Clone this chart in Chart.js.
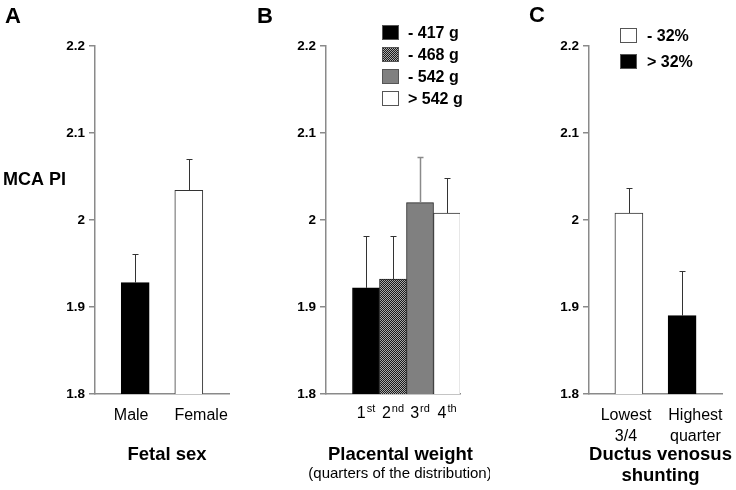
<!DOCTYPE html>
<html>
<head>
<meta charset="utf-8">
<script src="https://cdn.jsdelivr.net/npm/chart.js@4.4.1/dist/chart.umd.min.js"></script>
<style>
  html, body { margin: 0; padding: 0; background: #fff; }
  #wrap { position: relative; width: 736px; height: 490px; }
  canvas { position: absolute; top: 0; }
</style>
</head>
<body>
<div id="wrap">
  <canvas id="chartA" width="245" height="490" style="left:0"></canvas>
  <canvas id="chartB" width="245" height="490" style="left:245px"></canvas>
  <canvas id="chartC" width="246" height="490" style="left:490px"></canvas>
</div>
<script>
// shared y axis (MCA PI)
const yTicks = [1.8, 1.9, 2, 2.1, 2.2];
const yTickLabels = ['1.8', '1.9', '2', '2.1', '2.2'];

// A - fetal sex
const sexLabels = ['Male', 'Female'];
const sexMeans = [1.928, 2.034];
const sexSE = [0.033, 0.036];

// B - placental weight quarters
const placentaOrdinals = ['1', '2', '3', '4'];
const placentaSuffix = ['st', 'nd', 'rd', 'th'];
const placentaMeans = [1.922, 1.932, 2.020, 2.008];
const placentaSE = [0.060, 0.050, 0.052, 0.040];
const placentaLegend = ['- 417 g', '- 468 g', '- 542 g', '> 542 g'];

// C - ductus venosus shunting
const dvLabels = [['Lowest', '3/4'], ['Highest', 'quarter']];
const dvMeans = [2.008, 1.890];
const dvSE = [0.029, 0.051];
const dvLegend = ['- 32%', '> 32%'];

const FONT = '"Liberation Sans", Arial, sans-serif';
const AXIS = '#8a8a8a';

// checkered fill for the 2nd quarter
function hatch() {
  const c = document.createElement('canvas');
  c.width = 2; c.height = 2;
  const g = c.getContext('2d');
  g.fillStyle = '#aaa'; g.fillRect(0, 0, 2, 2);
  g.fillStyle = '#1a1a1a'; g.fillRect(0, 0, 1, 1); g.fillRect(1, 1, 1, 1);
  return g.createPattern(c, 'repeat');
}
const HATCH = hatch();

// error bars: upward whisker with a small cap
const errorBars = {
  id: 'errorBars',
  afterDatasetsDraw(chart) {
    const ctx = chart.ctx, y = chart.scales.y;
    const ds = chart.data.datasets[0];
    ctx.save();
    chart.getDatasetMeta(0).data.forEach((bar, i) => {
      const top = Math.round(y.getPixelForValue(ds.data[i].y + ds.errors[i])) + 0.5;
      const x = Math.round(bar.x) + 0.5;
      ctx.strokeStyle = ds.errorColors[i];
      ctx.lineWidth = ds.errorWidths[i];
      ctx.beginPath();
      ctx.moveTo(x, bar.y);
      ctx.lineTo(x, top);
      ctx.moveTo(x - 3, top);
      ctx.lineTo(x + 3, top);
      ctx.stroke();
    });
    ctx.restore();
  }
};

function text(ctx, str, x, y, size, bold, align) {
  ctx.font = (bold ? 'bold ' : '') + size + 'px ' + FONT;
  ctx.textAlign = align || 'left';
  ctx.textBaseline = 'alphabetic';
  ctx.fillStyle = '#000';
  ctx.fillText(str, x, y);
}

function legendBox(ctx, x, y, fill, border) {
  ctx.fillStyle = fill;
  ctx.fillRect(x, y, 17, 15);
  ctx.strokeStyle = border;
  ctx.lineWidth = 1;
  ctx.strokeRect(x + 0.5, y + 0.5, 16, 14);
}

function makePanel(id, p) {
  return new Chart(document.getElementById(id), {
    type: 'bar',
    data: {
      datasets: [{
        data: p.means.map((m, i) => ({ x: i + 1, y: m })),
        errors: p.se,
        errorColors: p.errColors,
        errorWidths: p.errWidths,
        backgroundColor: p.fills,
        borderColor: p.borders,
        borderWidth: 1,
        barThickness: p.barWidth
      }]
    },
    options: {
      responsive: false,
      animation: false,
      events: [],
      layout: { padding: { top: 46, right: p.padRight, left: 0, bottom: 0 } },
      plugins: { legend: { display: false }, tooltip: { enabled: false } },
      scales: {
        x: {
          type: 'linear', min: p.xMin, max: p.xMax, offset: false,
          afterFit: s => { s.height = 96; },
          afterBuildTicks: s => { s.ticks = p.tickPos.map(v => ({ value: v })); },
          ticks: {
            display: !!p.xLabels, autoSkip: false, maxRotation: 0, padding: 3, color: '#000',
            font: { family: FONT, size: 16, lineHeight: 1.3 },
            callback: (v, i) => p.xLabels ? p.xLabels[i] : ''
          },
          grid: { display: false },
          border: { display: true, color: AXIS, width: 1.5 }
        },
        y: {
          min: 1.8, max: 2.2,
          afterFit: s => { s.width = p.axisLeft; },
          afterBuildTicks: s => { s.ticks = yTicks.map(v => ({ value: v })); },
          ticks: {
            color: '#000', padding: 4,
            font: { family: FONT, size: 13.5, weight: 'bold' },
            callback: (v, i) => yTickLabels[i]
          },
          grid: { drawOnChartArea: false, drawTicks: true, tickLength: 6, color: AXIS, lineWidth: 1.5 },
          border: { display: true, color: AXIS, width: 1.5 }
        }
      }
    },
    plugins: [errorBars, { id: 'decor', afterDraw: p.decor }]
  });
}

makePanel('chartA', {
  means: sexMeans, se: sexSE,
  fills: ['#000', '#fff'], borders: ['#000', '#333'],
  errColors: ['#333', '#333'], errWidths: [1, 1],
  barWidth: 28, xMin: 0.25, xMax: 2.75, tickPos: [0.925, 2.23],
  xLabels: sexLabels, axisLeft: 95, padRight: 16,
  decor(chart) {
    const ctx = chart.ctx;
    text(ctx, 'A', 5, 23, 22, true);
    text(ctx, 'MCA PI', 3, 185, 18, true);
    text(ctx, 'Fetal sex', 167, 460, 18.5, true, 'center');
  }
});

makePanel('chartB', {
  means: placentaMeans, se: placentaSE,
  fills: ['#000', HATCH, '#808080', '#fff'], borders: ['#000', '#222', '#222', '#333'],
  errColors: ['#333', '#333', '#8a8a8a', '#333'], errWidths: [1, 1, 1.5, 1],
  barWidth: 27, xMin: -0.48, xMax: 4.48, tickPos: [1, 2, 3, 4],
  xLabels: null, axisLeft: 81, padRight: 30,
  decor(chart) {
    const ctx = chart.ctx, xs = chart.scales.x;
    const base = chart.chartArea.bottom + 24;
    placentaOrdinals.forEach((n, i) => {
      ctx.font = '16px ' + FONT;
      const w1 = ctx.measureText(n).width;
      ctx.font = '11px ' + FONT;
      const w2 = ctx.measureText(placentaSuffix[i]).width;
      const x0 = xs.getPixelForValue(i + 1) - (w1 + w2 + 1) / 2;
      text(ctx, n, x0, base, 16, false);
      text(ctx, placentaSuffix[i], x0 + w1 + 1, base - 6, 11, false);
    });
    text(ctx, 'B', 12, 23, 22, true);
    const fills = ['#000', HATCH, '#808080', '#fff'];
    placentaLegend.forEach((l, i) => {
      const y = 25 + i * 22;
      legendBox(ctx, 137, y, fills[i], '#555');
      text(ctx, l, 163, y + 13, 16, true);
    });
    text(ctx, 'Placental weight', 155.5, 460, 18.5, true, 'center');
    text(ctx, '(quarters of the distribution)', 155, 478, 15, false, 'center');
  }
});

makePanel('chartC', {
  means: dvMeans, se: dvSE,
  fills: ['#fff', '#000'], borders: ['#333', '#000'],
  errColors: ['#333', '#333'], errWidths: [1, 1],
  barWidth: 28, xMin: 0.25, xMax: 2.75, tickPos: [0.945, 2.25],
  xLabels: dvLabels, axisLeft: 99, padRight: 14,
  decor(chart) {
    const ctx = chart.ctx;
    text(ctx, 'C', 39, 22, 22, true);
    const fills = ['#fff', '#000'];
    dvLegend.forEach((l, i) => {
      const y = 28 + i * 26;
      legendBox(ctx, 130, y, fills[i], '#555');
      text(ctx, l, 157, y + 13, 16, true);
    });
    text(ctx, 'Ductus venosus', 170.5, 460, 18.5, true, 'center');
    text(ctx, 'shunting', 170.5, 481, 18.5, true, 'center');
  }
});
</script>
</body>
</html>
